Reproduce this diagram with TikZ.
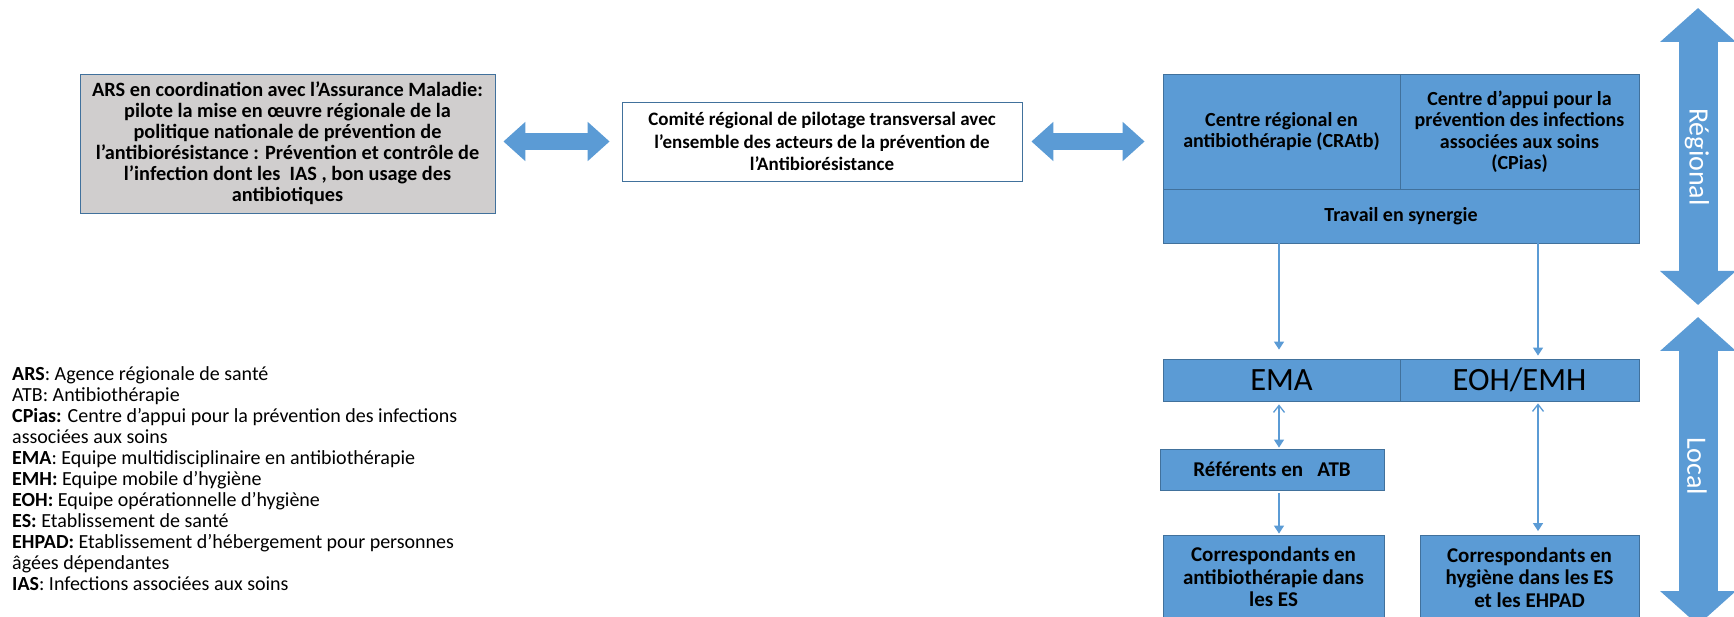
\documentclass[tikz,border=0pt]{standalone}
\usepackage{fontspec}
\setmainfont{Carlito}
\usepackage{xcolor}
\usetikzlibrary{arrows.meta}

\definecolor{office blue}{HTML}{5B9BD5}
\definecolor{office edge}{HTML}{41719C}
\definecolor{office gray}{HTML}{D0CECE}

\begin{document}
\begin{tikzpicture}[x=1pt, y=-1pt, >=Triangle]

	\tikzstyle{card} = [draw=office edge, line width=0.8pt, inner sep=0pt, align=center, font=\bfseries\fontsize{20.3}{21}\selectfont]
	\tikzstyle{bluecard} = [card, fill=office blue, font=\bfseries\fontsize{20}{21.5}\selectfont]
	\tikzstyle{lowcard} = [card, fill=office blue, font=\bfseries\fontsize{21}{22.5}\selectfont]
	\tikzstyle{team} = [bluecard, font=\fontsize{32.5}{36}\selectfont]
	\tikzstyle{fat} = [line width=17pt, draw=office blue, {Triangle[width=38pt,length=22pt]}-{Triangle[width=38pt,length=22pt]}]
	\tikzstyle{level} = [line width=39pt, draw=office blue, {Triangle[width=74pt,length=34pt]}-{Triangle[width=74pt,length=34pt]}]
	\tikzstyle{link} = [draw=office blue, line width=1.3pt, -{Triangle[width=10pt,length=8pt]}]
	\tikzstyle{twoway} = [link, {Straight Barb[width=11pt,length=7pt]}-{Triangle[width=10pt,length=8pt]}]

	\useasboundingbox (0,0) rectangle (1734,617);

	% regional level
	\node[card, fill=office gray, minimum width=415, minimum height=139] (ars pilots) at (287.5,143.5)
	{ARS en coordination avec l’Assurance Maladie:\\
	pilote la mise en œuvre régionale de la\\
	politique nationale de prévention de\\
	l’antibiorésistance : Prévention et contrôle de\\
	l’infection dont les\ \ IAS , bon usage des\\
	antibiotiques};
	\node[card, fill=white, font=\bfseries\fontsize{19}{22.5}\selectfont, minimum width=400, minimum height=79] (steering committee) at (822,141.5)
	{Comité régional de pilotage transversal avec\\
	l’ensemble des acteurs de la prévention de\\
	l’Antibiorésistance};
	\node[bluecard, minimum width=237, minimum height=115] (cratb) at (1281.5,131.5)
	{Centre régional en\\antibiothérapie (CRAtb)};
	\node[bluecard, minimum width=239, minimum height=115] (cpias) at (1519.5,131.5)
	{Centre d’appui pour la\\prévention des infections\\associées aux soins\\(CPias)};
	\node[bluecard, minimum width=476, minimum height=54] (synergy) at (1401,216) {Travail en synergie};

	% local level
	\node[team, minimum width=237, minimum height=42] (ema) at (1281.5,380) {EMA};
	\node[team, minimum width=239, minimum height=42] (eoh emh) at (1519.5,380) {EOH/EMH};
	\node[lowcard, minimum width=224, minimum height=41] (atb referents) at (1272,469.5) {Référents en\ \ \ ATB};
	\node[lowcard, minimum width=221, minimum height=84] (atb correspondents) at (1273.5,577)
	{Correspondants en\\antibiothérapie dans\\les ES};
	\node[lowcard, minimum width=219, minimum height=84] (hygiene correspondents) at (1529.5,577.5)
	{Correspondants en\\hygiène dans les ES\\et les EHPAD};

	\node[anchor=north west, inner sep=0pt, align=left, font=\fontsize{20}{21}\selectfont] (abbreviations) at (12,366)
	{\textbf{ARS}: Agence régionale de santé\\
	ATB: Antibiothérapie\\
	\textbf{CPias:} Centre d’appui pour la prévention des infections\\
	associées aux soins\\
	\textbf{EMA}: Equipe multidisciplinaire en antibiothérapie\\
	\textbf{EMH:}\ Equipe mobile d’hygiène\\
	\textbf{EOH:}\ Equipe opérationnelle d’hygiène\\
	\textbf{ES:} Etablissement de santé\\
	\textbf{EHPAD:}\ Etablissement d’hébergement pour personnes\\
	âgées dépendantes\\
	\textbf{IAS}: Infections associées aux soins};

	% big arrows
	\draw[fat] ([xshift=8]ars pilots.east |- steering committee.west) -- ([xshift=-12]steering committee.west);
	\draw[fat] ([xshift=9]steering committee.east) -- ([xshift=-18]cratb.west |- steering committee.east);
	\coordinate (regional top) at (1698,8);
	\coordinate (regional bottom) at (1698,305);
	\coordinate (local top) at (1698,317);
	\coordinate (local bottom) at (1698,625);
	\draw[level] (regional top) -- (regional bottom);
	\draw[level] (local top) -- (local bottom);
	\node[rotate=-90, text=white, font=\fontsize{28}{32}\selectfont] (regional label) at (1697,157) {Régional};
	\node[rotate=-90, text=white, font=\fontsize{28}{32}\selectfont] (local label) at (1697,466) {Local};

	% thin connectors
	\coordinate (left column) at (1279,0);
	\coordinate (right column) at (1538,0);
	\draw[link, shorten >=9pt] (synergy.south -| left column) -- (ema.north -| left column);
	\draw[link, shorten >=3pt] (synergy.south -| right column) -- (eoh emh.north -| right column);
	\draw[twoway, shorten <=3pt, shorten >=1pt] (ema.south -| left column) -- (atb referents.north -| left column);
	\draw[link, shorten <=3pt, shorten >=1pt] (atb referents.south -| left column) -- (atb correspondents.north -| left column);
	\draw[twoway, shorten <=2pt, shorten >=4pt] (eoh emh.south -| right column) -- (hygiene correspondents.north -| right column);

\end{tikzpicture}
\end{document}
